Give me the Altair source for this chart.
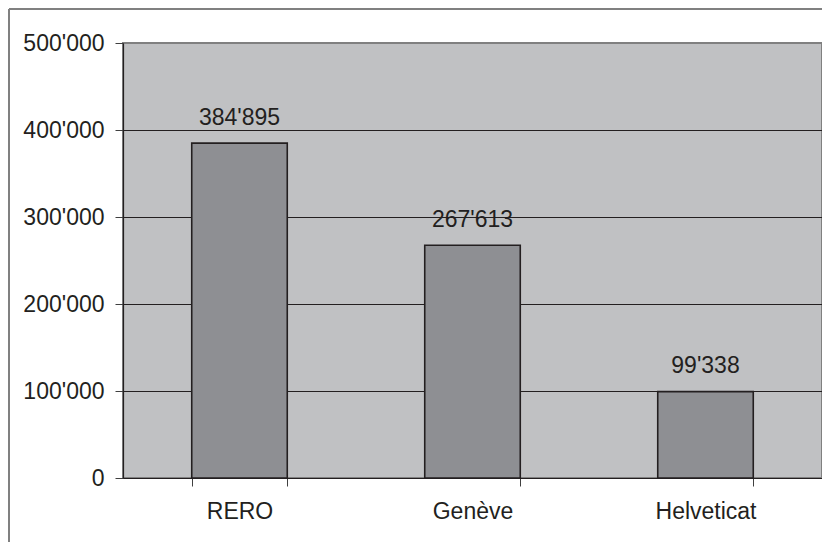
import altair as alt
import pandas as pd

categories = ["RERO", "Genève", "Helveticat"]
values = [384895, 267613, 99338]
y_ticks = [0, 100000, 200000, 300000, 400000, 500000]

df = pd.DataFrame({"cat": categories, "val": values})

FONT = "Liberation Sans"
INK = "#231f20"
FS = 23
W, H = 699, 435
PL, PT, PR, PB = 115, 35, 0, 64

x_axis = alt.Axis(
    labelAngle=0,
    labelFont=FONT,
    labelFontSize=FS,
    labelColor=INK,
    labelPadding=14,
    tickBand="extent",
    tickSize=8,
    tickColor="#404040",
    domainColor=INK,
    domainWidth=1.2,
    grid=False,
)
y_axis = alt.Axis(
    values=y_ticks,
    labelExpr="replace(format(datum.value, ','), regexp(',', 'g'), \"'\")",
    labelFont=FONT,
    labelFontSize=FS,
    labelColor=INK,
    labelPadding=11,
    tickSize=8,
    tickColor="#404040",
    domainColor=INK,
    domainWidth=1.2,
    grid=True,
    gridColor={
        "condition": {"test": "datum.value == 500000", "value": "#808080"},
        "value": INK,
    },
    gridWidth=1,
)
x_scale = alt.Scale(paddingInner=0.59, paddingOuter=0.295)
y_scale = alt.Scale(domain=[0, 500000], nice=False)

base = alt.Chart(df).encode(
    x=alt.X("cat:N", sort=categories, title=None, scale=x_scale, axis=x_axis),
    y=alt.Y("val:Q", title=None, scale=y_scale, axis=y_axis),
)

bars = base.mark_bar(color="#8e8f93", stroke=INK, strokeWidth=1.6)

labels = base.mark_text(
    font=FONT, fontSize=FS, color=INK, baseline="alphabetic", dy=-18.5
).encode(text=alt.Text("val:Q", format=","))

frame_data = alt.Data(values=[{"k": 1}])
frame_left = alt.Chart(frame_data).mark_rule(color="#808080", strokeWidth=2).encode(
    x=alt.value(-PL + 1), y=alt.value(-PT + 1), y2=alt.value(H + PB)
)
frame_top = alt.Chart(frame_data).mark_rule(color="#808080", strokeWidth=2).encode(
    x=alt.value(-PL + 1), x2=alt.value(W + PR), y=alt.value(-PT + 1)
)

chart = (
    alt.layer(bars, labels, frame_left, frame_top)
    .properties(
        width=W,
        height=H,
        autosize=alt.AutoSizeParams(type="none"),
        padding={"left": PL, "top": PT, "right": PR, "bottom": PB},
        background="white",
    )
    .configure(
        locale={"number": {"decimal": ".", "thousands": "'", "grouping": [3], "currency": ["", ""]}},
        view={"fill": "#c0c1c3", "stroke": "#808080", "strokeWidth": 2},
    )
)

chart.save("out.html", embed_options={"renderer": "svg", "actions": False})
